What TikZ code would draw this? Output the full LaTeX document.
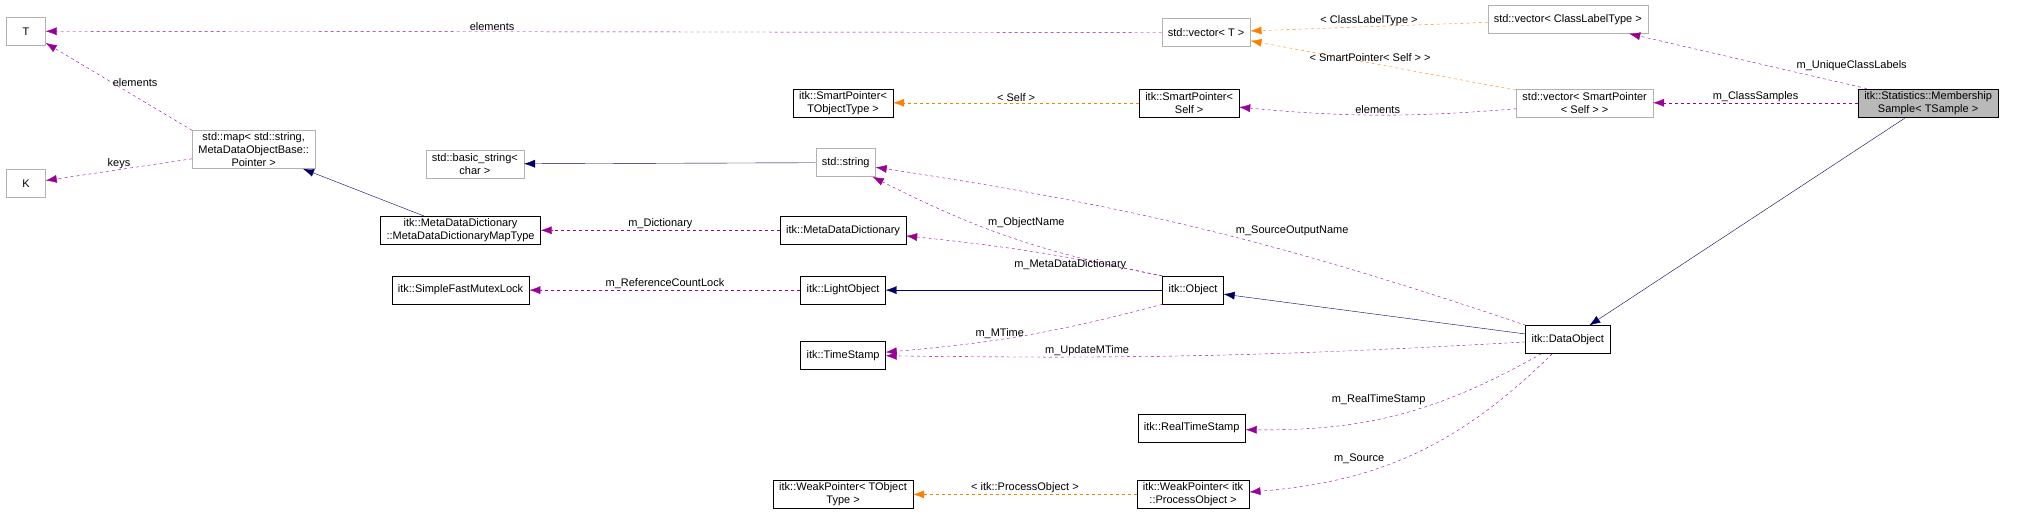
\documentclass[tikz,border=0pt]{standalone}
\usepackage{fontspec}
\setmainfont{Liberation Sans}
\usetikzlibrary{arrows.meta}

\begin{document}
\begin{tikzpicture}[x = 1.301pt, y = -1.301pt,
	every node/.style = {font = \fontsize{11}{13}\selectfont, align = center, inner sep = 2pt},
	cls/.style = {draw = black, fill = white, minimum height = 28pt, inner xsep = 6pt},
	ext/.style = {draw = gray!60, fill = white, minimum height = 28pt, inner xsep = 6pt},
	use/.style = {-{Latex[length = 11pt, width = 8pt]}, dashed, color = violet!80!magenta},
	tpl/.style = {-{Latex[length = 11pt, width = 8pt]}, dashed, color = orange},
	inh/.style = {-{Latex[length = 11pt, width = 8pt]}, color = blue!40!black},
	lbl/.style = {font = \fontsize{11}{13}\selectfont, inner sep = 1pt, color = black}]

	% Bounding box

	\useasboundingbox (0, 0) rectangle (1568, 402);

	% Classes

	\node [ext, minimum width = 39pt] (t) at (20, 24) {T};
	\node [ext, minimum width = 39pt] (k) at (20, 141) {K};
	\node [ext] (map) at (195, 115) {std::map\textless{} std::string,\\MetaDataObjectBase::\\Pointer \textgreater};
	\node [ext] (vect) at (927, 25) {std::vector\textless{} T \textgreater};
	\node [ext] (veclabel) at (1205, 15) {std::vector\textless{} ClassLabelType \textgreater};
	\node [ext] (vecsp) at (1218, 79) {std::vector\textless{} SmartPointer\\\textless{} Self \textgreater{} \textgreater};
	\node [cls, fill = gray!55] (member) at (1482, 79) {itk::Statistics::Membership\\Sample\textless{} TSample \textgreater};
	\node [cls] (sptobj) at (648, 79) {itk::SmartPointer\textless\\TObjectType \textgreater};
	\node [cls] (sptself) at (914, 79) {itk::SmartPointer\textless\\Self \textgreater};
	\node [ext] (basic) at (365, 126) {std::basic\_string\textless\\char \textgreater};
	\node [ext] (string) at (650, 125) {std::string};
	\node [cls] (maptype) at (354, 177) {itk::MetaDataDictionary\\::MetaDataDictionaryMapType};
	\node [cls] (dict) at (648, 177) {itk::MetaDataDictionary};
	\node [cls] (mutex) at (354, 223) {itk::SimpleFastMutexLock};
	\node [cls] (light) at (648, 223) {itk::LightObject};
	\node [cls] (object) at (917, 223) {itk::Object};
	\node [cls] (stamp) at (648, 273) {itk::TimeStamp};
	\node [cls] (data) at (1205, 261) {itk::DataObject};
	\node [cls] (real) at (916, 329) {itk::RealTimeStamp};
	\node [cls] (weakobj) at (648, 380) {itk::WeakPointer\textless{} TObject\\Type \textgreater};
	\node [cls] (weakproc) at (917, 380) {itk::WeakPointer\textless{} itk\\::ProcessObject \textgreater};

	% Inheritance

	\draw [inh] (string) -- (basic);
	\draw [inh] (maptype) -- (map);
	\draw [inh] (object) -- (light);
	\draw [inh] (data) -- (object);
	\draw [inh] (member) -- (data);

	% Template instances

	\draw [tpl] (veclabel) -- node [lbl, above] {\textless{} ClassLabelType \textgreater} (vect);
	\draw [tpl] (vecsp) -- node [lbl, above, pos = 0.55] {\textless{} SmartPointer\textless{} Self \textgreater{} \textgreater} (vect);
	\draw [tpl] (sptself) -- node [lbl, above] {\textless{} Self \textgreater} (sptobj);
	\draw [tpl] (weakproc) -- node [lbl, above] {\textless{} itk::ProcessObject \textgreater} (weakobj);

	% Members

	\draw [use] (vect) -- node [lbl, above, pos = 0.6] {elements} (t);
	\draw [use] (map.north west) -- node [lbl, right, pos = 0.55] {elements} (t);
	\draw [use] (map) -- node [lbl, above] {keys} (k);
	\draw [use] (vecsp) to [bend left = 5] node [lbl, above] {elements} (sptself);
	\draw [use] (member) -- node [lbl, above right, pos = 0.3] {m\_UniqueClassLabels} (veclabel);
	\draw [use] (member) -- node [lbl, above] {m\_ClassSamples} (vecsp);
	\draw [use] (object.north west) to [bend left = 8] node [lbl, above right, pos = 0.6] {m\_ObjectName} (string);
	\draw [use] (data) to [bend right = 5] node [lbl, above right, pos = 0.45] {m\_SourceOutputName} (string);
	\draw [use] (object.north west) to [bend right = 3] node [lbl, below, pos = 0.35] {m\_MetaDataDictionary} (dict);
	\draw [use] (dict) -- node [lbl, above] {m\_Dictionary} (maptype);
	\draw [use] (light) -- node [lbl, above] {m\_ReferenceCountLock} (mutex);
	\draw [use] (object.south west) to [bend left = 5] node [lbl, above, pos = 0.6] {m\_MTime} (stamp);
	\draw [use] (data) to [bend left = 2] node [lbl, above, pos = 0.7] {m\_UpdateMTime} (stamp);
	\draw [use] (data) to [bend left = 15] node [lbl, above left, pos = 0.4] {m\_RealTimeStamp} (real);
	\draw [use] (data) to [bend left = 20] node [lbl, above left, pos = 0.6] {m\_Source} (weakproc);

\end{tikzpicture}
\end{document}
